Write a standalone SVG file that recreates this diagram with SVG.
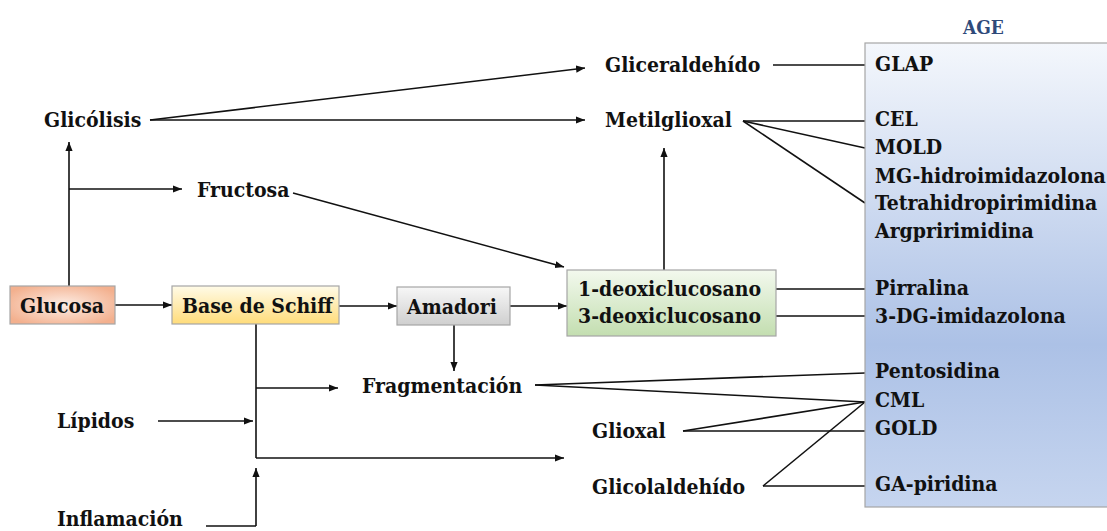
<svg xmlns="http://www.w3.org/2000/svg" width="1107" height="531" viewBox="0 0 1107 531">
  <style>
    text { font-family: "DejaVu Serif Condensed", "DejaVu Serif", "Liberation Serif", serif; font-weight: bold; font-size: 21px; fill: #111; }
    .title { font-size: 19px; fill: #2f4a7a; }
    .box { stroke: #a6a6a6; stroke-width: 1.2; }
    .ln { fill: none; stroke: #111; stroke-width: 1.6; }
    .arr { fill: none; stroke: #111; stroke-width: 1.6; marker-end: url(#ah); }
  </style>
  <defs>
    <marker id="ah" viewBox="0 0 10 10" refX="10" refY="5" markerWidth="9" markerHeight="9" markerUnits="userSpaceOnUse" orient="auto">
      <path d="M0,1 L10,5 L0,9 Z" fill="#111"/>
    </marker>
    <radialGradient id="gGlucosa" cx="0.5" cy="0.5" r="0.6">
      <stop offset="0" stop-color="#fdeee6"/>
      <stop offset="1" stop-color="#f3b08e"/>
    </radialGradient>
    <linearGradient id="gSchiff" x1="0" y1="0" x2="0" y2="1">
      <stop offset="0" stop-color="#fffbe8"/>
      <stop offset="1" stop-color="#ffdc7a"/>
    </linearGradient>
    <linearGradient id="gAmadori" x1="0" y1="0" x2="0" y2="1">
      <stop offset="0" stop-color="#f7f7f7"/>
      <stop offset="1" stop-color="#cfcfcf"/>
    </linearGradient>
    <linearGradient id="gDeoxi" x1="0" y1="0" x2="0" y2="1">
      <stop offset="0" stop-color="#f3f9ee"/>
      <stop offset="1" stop-color="#c3deb0"/>
    </linearGradient>
    <linearGradient id="gAge" x1="0" y1="0" x2="0" y2="1">
      <stop offset="0" stop-color="#f4f7fc"/>
      <stop offset="0.65" stop-color="#acc1e6"/>
      <stop offset="1" stop-color="#c6d5ef"/>
    </linearGradient>
  </defs>

  <!-- connectors -->
  <g id="connectors">
    <!-- glucose to glycolysis and fructose -->
    <path class="arr" d="M69,286 L69,142"/>
    <path class="arr" d="M69,189 L182,189"/>
    <!-- main chain -->
    <path class="arr" d="M115,305 L172,305"/>
    <path class="arr" d="M339,306 L397,306"/>
    <path class="arr" d="M510,306 L567,306"/>
    <path class="arr" d="M454,325 L454,371"/>
    <!-- glycolysis products -->
    <path class="arr" d="M150,120 L585,68"/>
    <path class="arr" d="M150,120 L585,120"/>
    <!-- fructose to deoxyglucosones -->
    <path class="arr" d="M293,193 L564,267"/>
    <!-- deoxyglucosones up to methylglyoxal -->
    <path class="arr" d="M664,270 L664,148"/>
    <!-- Schiff base branch -->
    <path class="ln" d="M256,324 L256,458"/>
    <path class="arr" d="M256,458 L564,458"/>
    <path class="arr" d="M256,388 L338,388"/>
    <path class="arr" d="M158,421 L253,421"/>
    <path class="ln" d="M206,526 L256,526"/>
    <path class="arr" d="M256,526 L256,468"/>
    <!-- links to AGE list -->
    <path class="ln" d="M773,65 L865,65"/>
    <path class="ln" d="M743,121 L865,121"/>
    <path class="ln" d="M743,121 L865,148"/>
    <path class="ln" d="M743,121 L865,203"/>
    <path class="ln" d="M776,289 L865,289"/>
    <path class="ln" d="M776,316 L865,316"/>
    <path class="ln" d="M535,385 L865,373"/>
    <path class="ln" d="M535,385 L865,402"/>
    <path class="ln" d="M683,431 L865,402"/>
    <path class="ln" d="M683,431 L865,431"/>
    <path class="ln" d="M763,486 L865,402"/>
    <path class="ln" d="M763,486 L865,486"/>
  </g>

  <g id="glucosa">
    <rect class="box" x="10" y="286" width="105" height="38" fill="url(#gGlucosa)"/>
    <text x="20" y="313">Glucosa</text>
  </g>
  <g id="base-schiff">
    <rect class="box" x="172" y="286" width="167" height="38" fill="url(#gSchiff)"/>
    <text x="182" y="313">Base de Schiff</text>
  </g>
  <g id="amadori">
    <rect class="box" x="397" y="287" width="113" height="38" fill="url(#gAmadori)"/>
    <text x="407" y="314">Amadori</text>
  </g>
  <g id="deoxiglucosanos">
    <rect class="box" x="567" y="270" width="209" height="66" fill="url(#gDeoxi)"/>
    <text x="578" y="296">1-deoxiclucosano</text>
    <text x="578" y="323">3-deoxiclucosano</text>
  </g>
  <g id="glicolisis"><text x="44" y="127">Glicólisis</text></g>
  <g id="fructosa"><text x="197" y="197">Fructosa</text></g>
  <g id="gliceraldehido"><text x="605" y="72">Gliceraldehído</text></g>
  <g id="metilglioxal"><text x="605" y="127">Metilglioxal</text></g>
  <g id="fragmentacion"><text x="362" y="393">Fragmentación</text></g>
  <g id="lipidos"><text x="57" y="428">Lípidos</text></g>
  <g id="inflamacion"><text x="57" y="526">Inflamación</text></g>
  <g id="glioxal"><text x="592" y="438">Glioxal</text></g>
  <g id="glicolaldehido"><text x="592" y="494">Glicolaldehído</text></g>

  <g id="age">
    <text class="title" x="963" y="34">AGE</text>
    <rect class="box" x="865" y="43" width="250" height="464" fill="url(#gAge)"/>
    <text x="875" y="71">GLAP</text>
    <text x="875" y="126">CEL</text>
    <text x="875" y="154">MOLD</text>
    <text x="875" y="183">MG-hidroimidazolona</text>
    <text x="875" y="210">Tetrahidropirimidina</text>
    <text x="875" y="238">Argpririmidina</text>
    <text x="875" y="295">Pirralina</text>
    <text x="875" y="323">3-DG-imidazolona</text>
    <text x="875" y="378">Pentosidina</text>
    <text x="875" y="407">CML</text>
    <text x="875" y="435">GOLD</text>
    <text x="875" y="491">GA-piridina</text>
  </g>
</svg>
